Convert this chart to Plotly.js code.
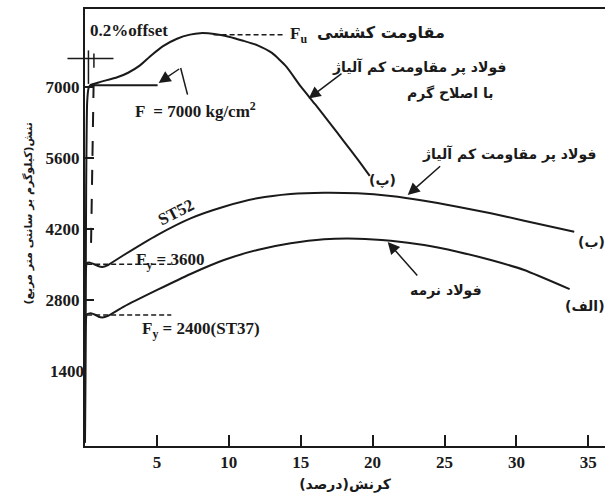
<!DOCTYPE html>
<html>
<head>
<meta charset="utf-8">
<script src="https://cdn.plot.ly/plotly-3.0.1.min.js"></script>
<style>html,body{margin:0;padding:0;background:#fff;}#chart{width:605px;height:495px;}</style>
</head>
<body>
<div id="chart"></div>
<script>
// ---- data (strain %, stress kg/cm2) ----
const strainC = [0, 0.08, 0.15, 0.25, 0.38, 1.08, 2.24, 3.0, 3.8, 4.6, 5.4, 6.4, 7.3, 8.0, 9.0, 10.0, 11.0, 12.0, 13.0, 14.0, 15.0, 16.0, 17.0, 18.0, 19.0, 19.8];
const stressC = [0, 5000, 6700, 6980, 7039, 7100, 7190, 7280, 7420, 7620, 7800, 7950, 8030, 8060, 8045, 7990, 7910, 7820, 7670, 7400, 7010, 6660, 6300, 5930, 5560, 5250];

const strainB = [0, 0.05, 0.12, 0.3, 0.6, 0.9, 1.2, 1.6, 2.7, 5.02, 7.34, 9.66, 11.98, 14.30, 16.62, 18.94, 21.26, 23.58, 25.90, 28.22, 30.54, 34.02];
const stressB = [0, 3300, 3528, 3545, 3515, 3475, 3455, 3494, 3692, 4085, 4414, 4643, 4808, 4893, 4918, 4906, 4853, 4761, 4643, 4513, 4367, 4150];

const strainA = [0, 0.05, 0.12, 0.4, 0.7, 0.95, 1.2, 1.6, 2.7, 5.02, 7.34, 9.66, 11.98, 14.30, 16.62, 18.94, 21.26, 23.58, 25.90, 28.22, 30.54, 33.7];
const stressA = [0, 2300, 2520, 2545, 2515, 2475, 2460, 2492, 2674, 3003, 3318, 3593, 3790, 3922, 4001, 4013, 3973, 3889, 3757, 3593, 3396, 3020];

// reference lines
const plateauX = [0.38, 5.05], plateauY = [7035, 7035];
const offsetX = [0.6, 0.42], offsetY = [7080, 3890];
const fuX = [8.94, 13.95], fuY = [8030, 8030];
const fy52X = [0.15, 6.0], fy52Y = [3510, 3510];
const fy37X = [0.15, 6.0], fy37Y = [2510, 2510];
const leaderX = [7.13, 6.65], leaderY = [6850, 7374];

const xTicks = [5, 10, 15, 20, 25, 30, 35];
const yTicks = [2800, 4200, 5600, 7000];
const yTicksNoMark = [1400];

const xMin = 0, xMax = 36.16, yMin = -69, yMax = 8535;
const ink = '#1a1a1a';
const serif = {family: 'Liberation Serif', size: 17, color: ink, weight: 'bold'};
const fa = {family: 'DejaVu Sans', size: 14, color: ink, weight: 'bold'};
const faBig = {family: 'DejaVu Sans', size: 16, color: ink, weight: 'bold'};
const px = x => (x - xMin) / (xMax - xMin);
const py = y => (y - yMin) / (yMax - yMin);

function line(x, y, extra) {
  return Object.assign({x: x, y: y, mode: 'lines', type: 'scatter', hoverinfo: 'skip',
    line: {color: ink, width: 2}}, extra || {});
}

const traces = [
  line(strainC, stressC, {line: {color: ink, width: 2, shape: 'spline', smoothing: 0.5}}),
  line(strainB, stressB, {line: {color: ink, width: 2, shape: 'spline', smoothing: 0.5}}),
  line(strainA, stressA, {line: {color: ink, width: 2, shape: 'spline', smoothing: 0.5}}),
  line(plateauX, plateauY),
  line(offsetX, offsetY, {line: {color: ink, width: 2, dash: '15px,14px'}}),
  line(fuX, fuY, {line: {color: ink, width: 1.5, dash: '5px,3px'}}),
  line(fy52X, fy52Y, {line: {color: ink, width: 1.5, dash: '5px,3px'}}),
  line(fy37X, fy37Y, {line: {color: ink, width: 1.5, dash: '5px,3px'}}),
  line(leaderX, leaderY, {line: {color: ink, width: 1.5}}),
  {x: [1], y: [1400], yaxis: 'y2', mode: 'markers', marker: {opacity: 0}, hoverinfo: 'skip', type: 'scatter'}
];

function txt(x, y, text, font, extra) {
  return Object.assign({x: x, y: y, xref: 'x', yref: 'y', text: text, showarrow: false, font: font}, extra || {});
}
function arrow(x, y, ax, ay) {
  return {x: x, y: y, ax: ax, ay: ay, xref: 'x', yref: 'y', axref: 'x', ayref: 'y', text: '',
    showarrow: true, arrowhead: 2, arrowsize: 1.6, arrowwidth: 1.5, arrowcolor: ink, standoff: 0};
}

const annotations = [
  txt(3.03, 8102, '0.2%offset', serif),
  txt(7.69, 6546, 'F  = 7000 kg/cm<sup>2</sup>', serif),
  txt(14.86, 8023, 'F<sub>u</sub>', serif),
  txt(20.6, 8063, 'مقاومت کششی', faBig),
  txt(23.2, 7393, 'فولاد پر مقاومت کم آلیاژ', fa),
  txt(25.35, 6881, 'با اصلاح گرم', fa),
  txt(20.7, 5166, '(پ)', fa),
  txt(29.5, 5680, 'فولاد پر مقاومت کم آلیاژ', fa),
  txt(35.25, 3948, '(ب)', fa),
  txt(25.1, 2990, 'فولاد نرمه', fa),
  txt(34.8, 2690, '(الف)', fa),
  txt(6.3, 4538, 'ST52', serif, {textangle: -27}),
  txt(5.95, 3573, 'F<sub>y</sub> = 3600', serif),
  txt(8.1, 2215, 'F<sub>y</sub> = 2400(ST37)', serif),
  {x: -0.125, y: 0.531, xref: 'paper', yref: 'paper', text: 'تنش(کیلوگرم بر سانتی متر مربع)', showarrow: false,
    textangle: -90, font: {family: 'DejaVu Sans', size: 11, color: ink, weight: 'bold'}},
  arrow(5.12, 7078, 6.65, 7374),
  arrow(15.55, 6773, 17.94, 7285),
  arrow(22.44, 4873, 24.8, 5464),
  arrow(21.05, 3947, 23.2, 3258)
];

const shapes = [
  // 0.2% offset dimension marker (extends left of the axis)
  {type: 'line', xref: 'paper', yref: 'paper', x0: px(-1.22), x1: px(1.98), y0: py(7560), y1: py(7560), line: {color: ink, width: 1.5}},
  {type: 'line', xref: 'paper', yref: 'paper', x0: px(0.24), x1: px(0.24), y0: py(7720), y1: py(7060), line: {color: ink, width: 1.5}},
  {type: 'line', xref: 'paper', yref: 'paper', x0: px(0.62), x1: px(0.62), y0: py(7660), y1: py(7380), line: {color: ink, width: 1.5}}
];

const layout = {
  width: 605, height: 495,
  margin: {l: 85, r: 0, t: 9, b: 49},
  paper_bgcolor: '#fff', plot_bgcolor: '#fff',
  showlegend: false,
  xaxis: {range: [xMin, xMax], tickvals: xTicks, ticktext: xTicks.map(String), ticks: 'inside', ticklen: 11, tickwidth: 2,
    tickcolor: ink, showline: true, linecolor: ink, linewidth: 2, mirror: true, showgrid: false, zeroline: false,
    tickfont: serif,
    title: {text: 'کرنش(درصد)', font: {family: 'DejaVu Sans', size: 14, color: ink, weight: 'bold'}, standoff: 8}},
  yaxis: {range: [yMin, yMax], tickvals: yTicks, ticktext: yTicks.map(String), ticks: 'inside', ticklen: 9, tickwidth: 2,
    tickcolor: ink, showline: true, linecolor: ink, linewidth: 2, showgrid: false, zeroline: false,
    tickfont: serif},
  yaxis2: {range: [yMin, yMax], overlaying: 'y', side: 'left', anchor: 'x', tickvals: yTicksNoMark, ticktext: yTicksNoMark.map(String),
    ticks: '', showline: false, showgrid: false, zeroline: false, tickfont: serif},
  annotations: annotations,
  shapes: shapes
};

Plotly.newPlot('chart', traces, layout, {displayModeBar: false, staticPlot: true});
</script>
</body>
</html>
